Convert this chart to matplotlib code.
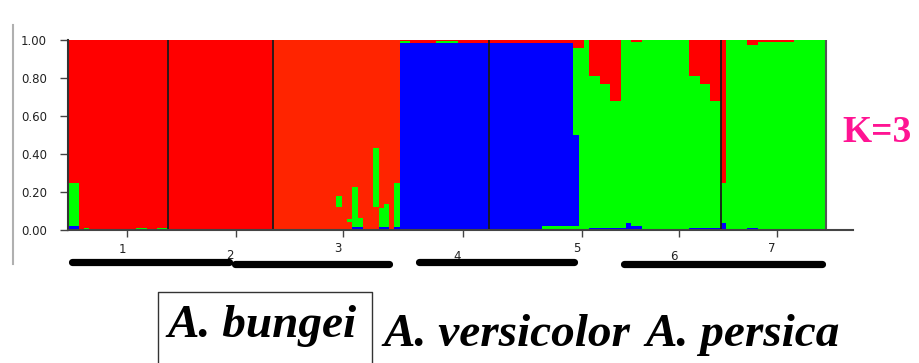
import matplotlib
matplotlib.use("Agg")
import matplotlib.pyplot as plt
import numpy as np
from matplotlib.lines import Line2D
from matplotlib.transforms import blended_transform_factory

W, H = 919, 363

# individuals per population (STRUCTURE bar plot, K=3)
pop_sizes = [19, 20, 24, 17, 17, 27, 20]
pop_red = ["#ff0000", "#ff0000", "#ff2400", "#ff0000", "#ff0000", "#ff0000", "#ff0000"]

# membership fractions per individual, bottom to top: green_low, blue, red_low, green, (red = rest)
green_low_q = (
    [0, 0, 0, 0, 0, 0, 0, 0, 0, 0, 0, 0, 0, 0, 0, 0, 0, 0, 0]
    + [0, 0, 0, 0, 0, 0, 0, 0, 0, 0, 0, 0, 0, 0, 0, 0, 0, 0, 0, 0]
    + [0, 0, 0, 0, 0, 0, 0, 0, 0, 0, 0, 0, 0, 0, 0, 0, 0, 0, 0, 0, 0, 0, 0, 0]
    + [0, 0, 0, 0, 0, 0, 0, 0, 0, 0, 0, 0, 0, 0, 0, 0, 0]
    + [0, 0, 0, 0, 0, 0, 0, 0, 0, 0, 0.02, 0.02, 0.02, 0.02, 0.02, 0.02, 0.02]
    + [0, 0, 0, 0, 0, 0, 0, 0, 0, 0, 0, 0, 0, 0, 0, 0, 0, 0, 0, 0, 0, 0, 0, 0, 0, 0, 0]
    + [0, 0, 0, 0, 0, 0, 0, 0, 0, 0, 0, 0, 0, 0, 0, 0, 0, 0, 0, 0]
)
blue_q = (
    [0.02, 0.02, 0, 0, 0, 0, 0, 0, 0, 0, 0, 0, 0, 0, 0, 0, 0, 0, 0]
    + [0, 0, 0, 0, 0, 0, 0, 0, 0, 0, 0, 0, 0, 0, 0, 0, 0, 0, 0, 0]
    + [0, 0, 0, 0, 0, 0, 0, 0, 0, 0, 0, 0, 0, 0, 0, 0.015, 0.015, 0, 0, 0, 0.015, 0.015, 0, 0.015]
    + [0.985, 0.985, 0.985, 0.985, 0.985, 0.985, 0.985, 0.985, 0.985, 0.985,
       0.985, 0.985, 0.985, 0.985, 0.985, 0.985, 0.985]
    + [0.985, 0.985, 0.985, 0.985, 0.985, 0.985, 0.985, 0.985, 0.985, 0.985,
       0.965, 0.965, 0.965, 0.965, 0.965, 0.965, 0.48]
    + [0, 0, 0.01, 0.01, 0.01, 0.01, 0.01, 0.01, 0.01, 0.035, 0.02, 0.02, 0, 0,
       0, 0, 0, 0, 0, 0, 0, 0.01, 0.01, 0.01, 0.01, 0.01, 0.01]
    + [0.035, 0, 0, 0, 0, 0.01, 0.01, 0, 0, 0, 0, 0, 0, 0, 0, 0, 0, 0, 0, 0]
)
red_low_q = (
    [0, 0, 0, 0, 0, 0, 0, 0, 0, 0, 0, 0, 0, 0, 0, 0, 0, 0, 0]
    + [0, 0, 0, 0, 0, 0, 0, 0, 0, 0, 0, 0, 0, 0, 0, 0, 0, 0, 0, 0]
    + [0, 0, 0, 0, 0, 0, 0, 0, 0, 0, 0, 0, 0.12, 0, 0.04, 0, 0, 0, 0, 0.12, 0, 0, 0, 0]
    + [0, 0, 0, 0, 0, 0, 0, 0, 0, 0, 0, 0, 0, 0, 0, 0, 0]
    + [0, 0, 0, 0, 0, 0, 0, 0, 0, 0, 0, 0, 0, 0, 0, 0, 0]
    + [0, 0, 0, 0, 0, 0, 0, 0, 0, 0, 0, 0, 0, 0, 0, 0, 0, 0, 0, 0, 0, 0, 0, 0, 0, 0, 0]
    + [0, 0, 0, 0, 0, 0, 0, 0, 0, 0, 0, 0, 0, 0, 0, 0, 0, 0, 0, 0]
)
green_q = (
    [0.23, 0.23, 0, 0.01, 0, 0, 0, 0, 0, 0, 0, 0, 0, 0.01, 0.01, 0, 0, 0.01, 0.01]
    + [0, 0, 0, 0, 0, 0, 0, 0, 0, 0, 0, 0, 0, 0, 0, 0, 0, 0, 0, 0]
    + [0, 0, 0, 0, 0, 0, 0, 0, 0, 0, 0, 0, 0.06, 0, 0.02, 0.21, 0.05, 0, 0, 0.31, 0.10, 0.12, 0, 0.23]
    + [0.012, 0.012, 0, 0, 0, 0, 0, 0.012, 0.012, 0.012, 0.012, 0, 0, 0, 0, 0, 0]
    + [0, 0, 0, 0, 0, 0, 0, 0, 0, 0, 0, 0, 0, 0, 0, 0, 0.46]
    + [0.96, 1.0, 0.80, 0.80, 0.76, 0.76, 0.67, 0.67, 0.99, 0.965, 0.97, 0.97, 1.0, 1.0,
       1.0, 1.0, 1.0, 1.0, 1.0, 1.0, 1.0, 0.80, 0.80, 0.76, 0.76, 0.67, 0.67]
    + [0.215, 1.0, 1.0, 1.0, 1.0, 0.965, 0.965, 0.99, 0.99, 0.99, 0.99, 0.99, 0.99, 0.99,
       1.0, 1.0, 1.0, 1.0, 1.0, 1.0]
)

# drawn population separators (individual index)
separators = [19, 39, 80, 124]
tick_pos = [11.2, 31.9, 52.2, 75.0, 97.6, 116.1, 134.7]
tick_labels = ["1", "2", "3", "4", "5", "6", "7"]
label_x = [10.3, 30.8, 51.3, 73.9, 96.7, 115.1, 133.7]
label_y = [-0.105, -0.132, -0.10, -0.142, -0.10, -0.142, -0.095]

# species bars under the plot (start, end in individual units, y in axes fraction)
species_bars = [(0.7, 30.6, -0.171), (31.7, 61.0, -0.179), (66.6, 96.2, -0.171), (105.6, 143.3, -0.179)]
species = ["A. bungei", "A. versicolor", "A. persica"]

GREEN = "#00ff00"
BLUE = "#0000ff"

green_low = np.array(green_low_q)
blue = np.array(blue_q)
red_low = np.array(red_low_q)
green = np.array(green_q)
red = 1 - green_low - blue - red_low - green
n = len(blue)
x = np.arange(n)
red_cols = np.repeat(pop_red, pop_sizes)

fig = plt.figure(figsize=(W / 100, H / 100), dpi=100)
px_per_ind = (826 - 68) / n
ax = fig.add_axes([68 / W, (H - 230) / H, (853 - 68) / W, 190 / H])

bottom = np.zeros(n)
for vals, col in [(green_low, GREEN), (blue, BLUE), (red_low, red_cols), (green, GREEN), (red, red_cols)]:
    ax.bar(x, vals, width=1, bottom=bottom, align="edge", color=col, linewidth=0, antialiased=False)
    bottom = bottom + vals

ax.vlines(separators, 0, 1, color="#1a1a1a", lw=1.3)
ax.vlines([n], 0, 1, color="#555555", lw=1.5)

ax.set_xlim(0, (853 - 68) / px_per_ind)
ax.set_ylim(0, 1)
for s in ["top", "right"]:
    ax.spines[s].set_visible(False)
ax.spines["left"].set_color("#333333")
ax.spines["left"].set_linewidth(1.5)
ax.spines["bottom"].set_color("#444444")
ax.spines["bottom"].set_linewidth(1.5)

ax.set_yticks([0, 0.2, 0.4, 0.6, 0.8, 1.0])
ax.set_yticklabels(["0.00", "0.20", "0.40", "0.60", "0.80", "1.00"], fontsize=8.5, color="#222222")
ax.tick_params(axis="y", length=6, width=1, color="#444444", pad=9)
ax.set_xticks(tick_pos)
ax.set_xticklabels([])
ax.tick_params(axis="x", length=5, width=1, color="#444444")

trans = blended_transform_factory(ax.transData, ax.transAxes)
for lx, ly, t in zip(label_x, label_y, tick_labels):
    ax.text(lx, ly, t, transform=trans, ha="center", va="center", fontsize=8.5, color="#222222", clip_on=False)
for x0, x1, yb in species_bars:
    ax.plot([x0, x1], [yb, yb], transform=trans, color="black", lw=5.2, solid_capstyle="round",
            clip_on=False, zorder=5)

# left grey rule
fig.add_artist(Line2D([13 / W, 13 / W], [(H - 25) / H, (H - 264) / H], color="#b0b0b0", lw=1.5))

# box around first species name
bx0, bx1, by = 158 / W, 372 / W, (H - 292) / H
fig.add_artist(Line2D([bx0, bx0, bx1, bx1], [0, by, by, 0], color="#333333", lw=1.0))

serif = ["Liberation Serif", "DejaVu Serif"]
fig.text(167 / W, (H - 337) / H, species[0], fontsize=34, fontweight="bold", fontstyle="italic",
         family=serif, ha="left", va="baseline")
fig.text(383 / W, (H - 346.5) / H, species[1], fontsize=34, fontweight="bold", fontstyle="italic",
         family=serif, ha="left", va="baseline")
fig.text(645 / W, (H - 346.5) / H, species[2], fontsize=34, fontweight="bold", fontstyle="italic",
         family=serif, ha="left", va="baseline")
fig.text(842 / W, (H - 142.5) / H, "K=3", fontsize=27, fontweight="bold", color="#ff1493",
         family=serif, ha="left", va="baseline")

fig.savefig("out.png", dpi=100)
